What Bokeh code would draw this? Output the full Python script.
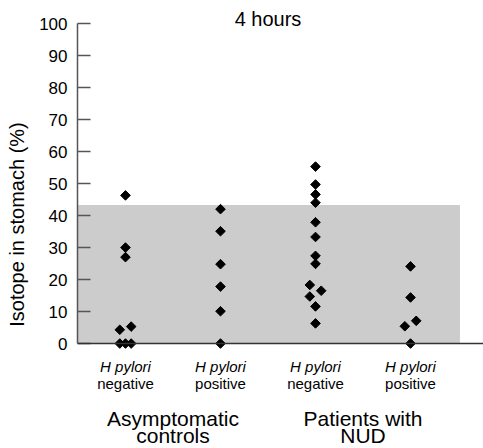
import math
from bokeh.plotting import figure
from bokeh.models import Range1d, FixedTicker, Span
from bokeh.core.properties import value
from bokeh.embed import file_html
from bokeh.resources import INLINE

# ---- data ----
title_text = "4 hours"
y_label = "Isotope in stomach (%)"
y_ticks = [0, 10, 20, 30, 40, 50, 60, 70, 80, 90, 100]
normal_upper = 43.3  # shaded reference band 0..upper

group_names = [["Asymptomatic", "controls"], ["Patients with", "NUD"]]
sub_top = ["H pylori", "H pylori", "H pylori", "H pylori"]
sub_bottom = ["negative", "positive", "negative", "positive"]

ctrl_neg = [46.3, 30.0, 27.0, 4.3, 5.3, 0.0, 0.0, 0.0]
ctrl_neg_slot = [0, 0, 0, -1, 1, -1, 0, 1]
ctrl_pos = [42.0, 35.1, 24.8, 17.8, 10.1, 0.0]
ctrl_pos_slot = [0, 0, 0, 0, 0, 0]
nud_neg = [55.3, 49.7, 46.6, 44.0, 37.9, 33.3, 27.4, 24.9, 18.3, 16.5, 14.7, 11.6, 6.3]
nud_neg_slot = [0, 0, 0, 0, 0, 0, 0, 0, -1, 1, -1, 0, 0]
nud_pos = [24.1, 14.4, 7.1, 5.4, 0.0]
nud_pos_slot = [0, 0, 1, -1, 0]

series = [(ctrl_neg, ctrl_neg_slot), (ctrl_pos, ctrl_pos_slot),
          (nud_neg, nud_neg_slot), (nud_pos, nud_pos_slot)]

FONT = "Liberation Sans"
SLOT = 0.06

p = figure(width=483, height=448, output_backend="svg", toolbar_location=None,
           x_range=Range1d(0.495, 4.768), y_range=Range1d(-32.8, 107.2),
           min_border=0, min_border_left=77)
p.outline_line_color = None
p.grid.visible = False
p.xaxis.visible = False

# shaded band
p.quad(left=[0.495], right=[4.52], bottom=[0], top=[normal_upper],
       fill_color="#cccccc", line_color=None)

# baseline (x axis line)
p.add_layout(Span(location=0, dimension="width", line_color="#333333", line_width=1.5))

# points
xs, ys = [], []
for gi, (vals, slots) in enumerate(series):
    for v, s in zip(vals, slots):
        xs.append(gi + 1 + s * SLOT)
        ys.append(v)
p.scatter(xs, ys, marker="square", angle=math.pi / 4, size=6.8,
          fill_color="black", line_color="black", line_width=1)

# y axis
ax = p.yaxis[0]
ax.ticker = FixedTicker(ticks=y_ticks)
ax.bounds = (0, 100)
ax.minor_tick_line_color = None
ax.major_tick_in = 13
ax.major_tick_out = 0
ax.axis_line_color = "#555555"
ax.axis_line_width = 1.5
ax.major_tick_line_color = "#555555"
ax.major_tick_line_width = 1.5
ax.major_label_text_font = FONT
ax.major_label_text_font_size = "17px"
ax.major_label_text_color = "black"
ax.major_label_standoff = 10
ax.axis_label = y_label
ax.axis_label_text_font = FONT
ax.axis_label_text_font_size = "20px"
ax.axis_label_text_font_style = "normal"
ax.axis_label_text_color = "black"
ax.axis_label_standoff = 8

# title
p.text(x=[2.5], y=[101.3], text=[title_text], text_font=value(FONT),
       text_font_size="20px", text_align="center", text_baseline="middle",
       text_color="black")

# subgroup labels
gx = [1, 2, 3, 4]
p.text(x=gx, y=[-7.19] * 4, text=sub_top, text_font=value(FONT),
       text_font_size="15px", text_font_style="italic", text_align="center",
       text_baseline="middle", text_color="black")
p.text(x=gx, y=[-12.5] * 4, text=sub_bottom, text_font=value(FONT),
       text_font_size="15px", text_align="center",
       text_baseline="middle", text_color="black")

# group labels
grp_x = [1.5, 3.5]
p.text(x=grp_x, y=[-23.3] * 2, text=[g[0] for g in group_names], text_font=value(FONT),
       text_font_size="21px", text_align="center", text_baseline="middle",
       text_color="black")
p.text(x=grp_x, y=[-28.8] * 2, text=[g[1] for g in group_names], text_font=value(FONT),
       text_font_size="21px", text_align="center", text_baseline="middle",
       text_color="black")

open("out.html", "w").write(file_html(p, INLINE))
